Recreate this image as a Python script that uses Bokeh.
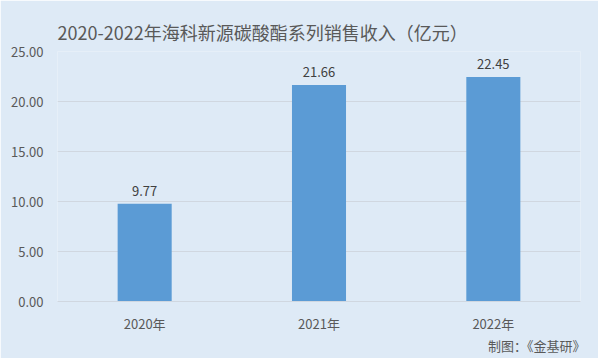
from bokeh.plotting import figure
from bokeh.models import Title, Range1d, FactorRange, ColumnDataSource, LabelSet, NumeralTickFormatter
from bokeh.core.properties import value
from bokeh.embed import file_html
from bokeh.resources import INLINE

years = ["2020年", "2021年", "2022年"]
revenue = [9.77, 21.66, 22.45]
labels = ["9.77", "21.66", "22.45"]
title_text = "2020-2022年海科新源碳酸酯系列销售收入（亿元）"
note_text = "制图：《金基研》"

FONT = "Noto Sans CJK SC"
BG = "#DEEAF6"
TXT = "#595959"

src = ColumnDataSource(dict(x=years, y=revenue, t=labels))

p = figure(width=598, height=358, x_range=FactorRange(*years, range_padding=0),
           y_range=Range1d(0, 25), output_backend="svg", toolbar_location=None,
           min_border_left=57, min_border_right=18, min_border_top=51, min_border_bottom=57,
           background_fill_color=BG, border_fill_color=BG, outline_line_color=None)

p.vbar(x="x", top="y", width=0.31, source=src, color="#5B9BD5", line_color=None)
p.add_layout(LabelSet(x="x", y="y", text="t", source=src, text_align="center",
                      text_baseline="bottom", y_offset=8, text_font_size="13px",
                      text_color="#404040", text_font=value(FONT)))

p.title.text = title_text
p.title.align = "left"
p.title.vertical_align = "top"
p.title.text_font = FONT
p.title.text_font_size = "18px"
p.title.text_font_style = "normal"
p.title.text_color = TXT

note = Title(text=note_text, align="right", vertical_align="top", text_font=FONT,
             text_font_size="13px", text_font_style="normal", text_color=TXT,
             standoff=0, offset=-5)
p.add_layout(note, "below")

p.yaxis.ticker = [0, 5, 10, 15, 20, 25]
p.yaxis.formatter = NumeralTickFormatter(format="0.00")
for ax in (p.xaxis, p.yaxis):
    ax.axis_line_color = None
    ax.major_tick_line_color = None
    ax.minor_tick_line_color = None
    ax.major_label_text_font = FONT
    ax.major_label_text_font_size = "13px"
    ax.major_label_text_color = TXT
p.xaxis.axis_line_color = "#D0D7E0"
p.yaxis.major_label_standoff = 8
p.xaxis.major_label_standoff = 6
p.xgrid.grid_line_color = None
p.ygrid.grid_line_color = "#D0D7E0"

open("out.html", "w").write(file_html(p, INLINE))
